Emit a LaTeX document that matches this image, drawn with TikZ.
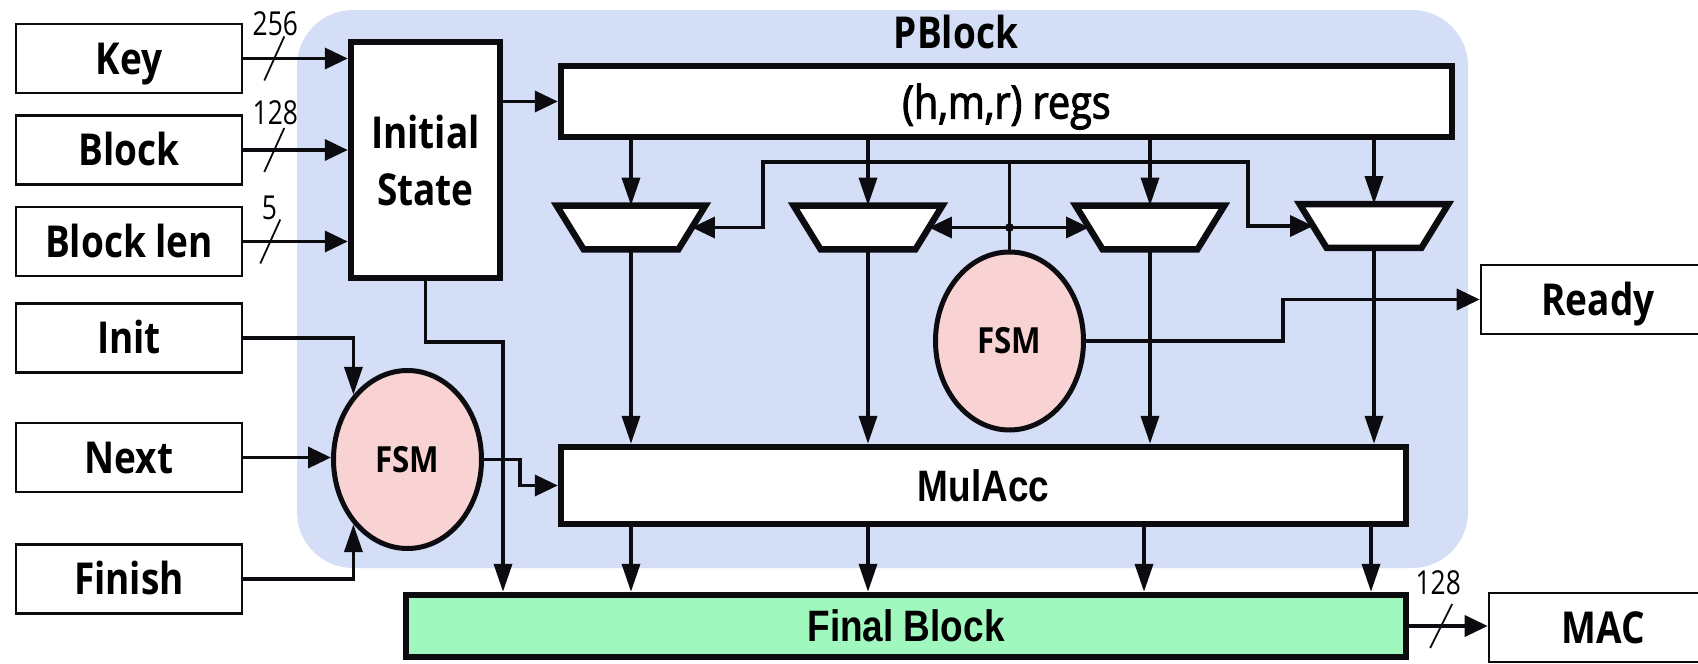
\documentclass[tikz,border=0pt]{standalone}
\usepackage{fontspec}
\usetikzlibrary{arrows.meta,calc,shapes.geometric}

% Type faces (slightly condensed to suit the tall lettering)
\newfontfamily\osfont[FakeStretch=0.84]{Open Sans}
\newfontfamily\osfsm[FakeStretch=0.87]{Open Sans}
\newfontfamily\ossemi[FakeStretch=0.86,FakeBold=2.2]{Open Sans}
\newfontfamily\oslight[FakeStretch=0.8]{Open Sans}
\newfontfamily\arfont[FakeStretch=0.84]{Liberation Sans}

\definecolor{pbg}{RGB}{212,223,247}
\definecolor{fsmfill}{RGB}{249,211,211}
\definecolor{finfill}{RGB}{160,248,190}
\definecolor{ink}{RGB}{12,12,16}

\tikzset{
  lbl/.style={font=\osfont\bfseries\fontsize{22}{28.5}\selectfont,
              text height=15.8pt, text depth=0pt},
  boxsize/.style 2 args={minimum width=#1, minimum height=#2},
  inbox/.style={draw=ink, line width=1.3pt, fill=white, inner sep=0pt, lbl},
  heavyline/.style={draw=ink, line width=3.2pt, line join=miter},
  heavybox/.style={heavyline, fill=white, inner sep=0pt},
  fsmnode/.style={ellipse, draw=ink, line width=2.5pt, fill=fsmfill,
                  minimum width=74pt, minimum height=89pt, inner sep=0pt,
                  font=\osfsm\bfseries\fontsize{18}{20}\selectfont},
  wire/.style={draw=ink, line width=1.8pt},
  arrh/.style={wire, -{Triangle[length=11.5pt,width=10.5pt]}},
  arrv/.style={wire, -{Triangle[length=14pt,width=9pt]}},
  busmark/.style={draw=ink, line width=0.9pt},
  buslabel/.style={font=\oslight\fontsize{16.5}{18}\selectfont, inner sep=0pt},
}

% multiplexer: wide top, narrow bottom; #1 name, #2/#3 centre
\newcommand\muxat[3]{%
  \node[minimum width=74pt, minimum height=21.5pt, inner sep=0pt] (#1) at (#2,#3) {};
  \coordinate (#1-bl) at ($(#1.south west)+(27,0)$);
  \coordinate (#1-br) at ($(#1.south east)+(-27,0)$);
  \draw[heavyline, fill=white] (#1.north west) -- (#1.north east) -- (#1-br) -- (#1-bl) -- cycle;
  \coordinate (#1-l) at ($(#1.north west)!0.5!(#1-bl)$);
  \coordinate (#1-r) at ($(#1.north east)!0.5!(#1-br)$);
}

\begin{document}
\begin{tikzpicture}[x=0.5pt,y=-0.5pt]
\useasboundingbox (0,0) rectangle (1698,664);
\fill[white] (0,0) rectangle (1698,664);

% PBlock region
\node[boxsize={585.5pt}{279pt}, inner sep=0pt, fill=pbg, rounded corners=28pt] (pblock) at (882.5,289) {};
\node[lbl] (pbname) at (956,33) {PBlock};

% inputs
\node[inbox, boxsize={113pt}{34.5pt}] (key) at (129,58.5) {Key};
\node[inbox, boxsize={113pt}{34.5pt}] (blk) at (129,150) {Block};
\node[inbox, boxsize={113pt}{34.5pt}] (blen) at (129,241.5) {Block len};
\node[inbox, boxsize={113pt}{34.5pt}] (init) at (129,338) {Init};
\node[inbox, boxsize={113pt}{34.5pt}] (next) at (129,457.5) {Next};
\node[inbox, boxsize={113pt}{34.5pt}] (fin) at (129,579) {Finish};

% outputs
\node[inbox, boxsize={117pt}{34.5pt}] (ready) at (1598,299.5) {Ready};
\node[inbox, boxsize={114.5pt}{34.5pt}] (mac) at (1603.5,627.5) {MAC};

% main blocks
\node[heavybox, boxsize={74.5pt}{118pt}, align=center,
      font=\osfont\bfseries\fontsize{22}{28.5}\selectfont] (is) at (425.5,160) {Initial\\State};
\node[heavybox, boxsize={445.5pt}{35.5pt},
      font=\ossemi\fontsize{23}{26}\selectfont, text height=17pt, text depth=0pt] (regs) at (1006.5,101.5) {(h,m,r) regs};
\node[heavybox, boxsize={422.5pt}{38.5pt},
      font=\arfont\bfseries\fontsize{22}{26}\selectfont, text height=15.8pt, text depth=0pt] (mul) at (983.5,485.5) {MulAcc};
\node[heavybox, fill=finfill, boxsize={500pt}{31pt},
      font=\arfont\bfseries\fontsize{22}{26}\selectfont, text height=15.8pt, text depth=0pt] (final) at (906,626) {Final Block};

% state machines
\node[fsmnode] (fsm1) at (407.5,459.5) {FSM};
\node[fsmnode] (fsm2) at (1009.5,341) {FSM};

% multiplexers
\muxat{m1}{631}{227.5}
\muxat{m2}{868}{227.5}
\muxat{m3}{1150}{227.5}
\muxat{m4}{1374}{226}

% inputs into Initial State, with bus widths
\draw[arrh] (key.east) -- (key.east -| is.west);
\draw[arrh] (blk.east) -- (blk.east -| is.west);
\draw[arrh] (blen.east) -- (blen.east -| is.west);
\draw[busmark] ($(key.east)+(21,22)$) -- ($(key.east)+(41,-22)$);
\draw[busmark] ($(blk.east)+(21,22)$) -- ($(blk.east)+(41,-22)$);
\draw[busmark] ($(blen.east)+(17,22)$) -- ($(blen.east)+(37,-22)$);
\node[buslabel] (w256) at ($(key.east)+(32,-35)$) {256};
\node[buslabel] (w128) at ($(blk.east)+(32,-37)$) {128};
\node[buslabel] (w5) at ($(blen.east)+(26,-34)$) {5};

% Initial State to registers and to Final Block
\draw[arrh] (regs.west -| is.east) -- (regs.west);
\coordinate (isb) at (503,342);
\draw[arrv] (is.south) |- (isb) -- (isb |- final.north);

% control inputs into the first FSM
\draw[arrv] (init.east) -| (fsm1.north west);
\draw[arrh] (next.east) -- (next.east -| fsm1.west);
\draw[arrv] (fin.east) -| (fsm1.south west);
\draw[arrh] (fsm1.east) -- ++(36,0) |- (mul.west);

% datapath through the multiplexers
\foreach \m in {m1,m2,m3,m4} {
  \draw[arrv] (regs.south -| \m.north) -- (\m.north);
  \draw[arrv] (\m.south) -- (\m.south |- mul.north);
}
\coordinate (t3) at (1144,0);
\coordinate (t4) at (1371,0);
\draw[arrv] (mul.south -| m1.south) -- (final.north -| m1.south);
\draw[arrv] (mul.south -| m2.south) -- (final.north -| m2.south);
\draw[arrv] (mul.south -| t3) -- (final.north -| t3);
\draw[arrv] (mul.south -| t4) -- (final.north -| t4);

% select lines from the second FSM
\coordinate (selL) at (763,162);
\coordinate (selR) at (1248,162);
\draw[arrh] (fsm2.north) |- (selL) |- (m1-r);
\draw[arrh] (fsm2.north) |- (selR) |- (m4-l);
\coordinate (seldot) at (fsm2.north |- m2-r);
\draw[arrh] (seldot) -- (m2-r);
\draw[arrh] (seldot) -- (m3-l);
\fill[ink] (seldot) circle[radius=2.2pt];

% ready flag
\coordinate (rdy) at (1283,0);
\draw[arrh] (fsm2.east) -| (rdy |- ready.west) -- (ready.west);

% MAC output
\draw[arrh] (final.east) -- (final.east -| mac.west);
\draw[busmark] ($(final.east)+(21,22)$) -- ($(final.east)+(43,-22)$);
\node[buslabel] (w128b) at ($(final.east)+(29,-43)$) {128};
\end{tikzpicture}
\end{document}
